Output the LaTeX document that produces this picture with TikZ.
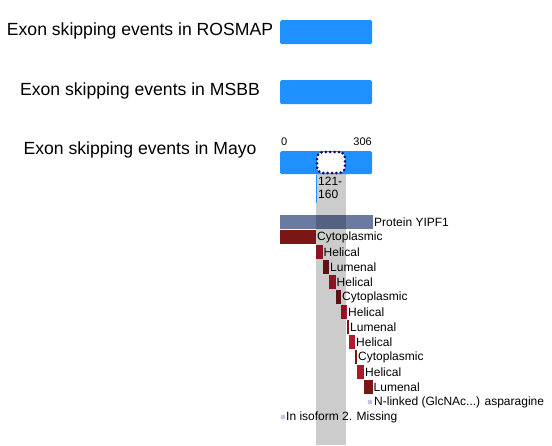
\documentclass[tikz,border=0pt]{standalone}
\usepackage{fontspec}
\setmainfont{Liberation Sans}
\usetikzlibrary{positioning}
\definecolor{exonblue}{HTML}{1E90FF}
\definecolor{protslate}{HTML}{6B7AA1}
\definecolor{helixred}{HTML}{B2182B}
\definecolor{loopred}{HTML}{7A1616}
\definecolor{dotnavy}{HTML}{10106A}
\definecolor{sitedot}{HTML}{C9C3DD}
\tikzset{
	exonbar/.style={fill=exonblue, rounded corners=1.5pt, minimum width=92pt, minimum height=24pt, anchor=north west, inner sep=0pt},
	title/.style={font=\fontsize{17.6}{20}\selectfont, anchor=center},
	small/.style={font=\fontsize{12}{13}\selectfont, inner sep=0pt, anchor=west},
	tick/.style={font=\fontsize{11}{12}\selectfont, inner sep=0pt},
}
\begin{document}
\begin{tikzpicture}[x=1pt,y=-1pt]
	\useasboundingbox (0,0) rectangle (552,445);
	\pgfmathsetmacro\XL{280}
	\pgfmathsetmacro\XR{372}
	\pgfmathsetmacro\WL{316}
	\pgfmathsetmacro\WR{346}
	\coordinate (bandtop) at (\WL,174);
	\coordinate (bandbot) at (\WR,445);
	\coordinate (winend) at (\WL+0.5,203);
	
	% exon bars and titles
	\node (rosmap) [exonbar] at (\XL,20) {};
	\node (msbb) [exonbar] at (\XL,80) {};
	\node (mayo) [exonbar, minimum height=23pt] at (\XL,151) {};
	\node (rosmaplab) [title] at (140,31) {Exon skipping events in ROSMAP};
	\node (msbblab) [title] at (140,91) {Exon skipping events in MSBB};
	\node (mayolab) [title] at (140,150) {Exon skipping events in Mayo};
	\node (tickzero) [tick, anchor=west] at (281,142) {0};
	\node (tickend) [tick, anchor=east] at (\XR,142) {306};
	
	% protein and its features
	\fill[protslate] (\XL,215) rectangle (373,229);
	\node (protlab) [small] at (374,222) {Protein YIPF1};
	\foreach \xa/\xb/\row/\col/\lab in {280/316/1/loopred/Cytoplasmic, 316/322.5/2/helixred/Helical, 322.5/329/3/loopred/Lumenal, 329/335.5/4/helixred/Helical, 335.5/341/5/loopred/Cytoplasmic, 341/347/6/helixred/Helical, 347/349/7/loopred/Lumenal, 349/355/8/helixred/Helical, 355/357/9/loopred/Cytoplasmic, 357/364/10/helixred/Helical, 364/372.5/11/loopred/Lumenal}
	{
		\fill[\col] (\xa,215+15*\row) rectangle (\xb,229+15*\row);
		\node (feat\row) [small] at (\xb+1,222+15*\row) {\lab};
	}
	\fill[sitedot] (370,402) circle (2.5);
	\node (glyco) [small] at (374,402) {N-linked (GlcNAc...) asparagine};
	\fill[sitedot] (283,417) circle (2.5);
	\node (isoform) [small] at (286,417) {In isoform 2. Missing};
	
	% skipped window
	\fill[black, opacity=0.2] (bandtop) rectangle (bandbot);
	\node (skipwin) [draw=dotnavy, fill=white, line width=3pt, dash pattern=on 0pt off 4.4pt, line cap=round, rounded corners=6pt, minimum width=28pt, minimum height=21pt, inner sep=0pt] at (331,162.5) {};
	\draw[exonblue, line width=1.5pt] (skipwin.south west -| winend) -- (winend);
	\node (winstart) [small] at (318,181) {121-};
	\node (winstop) [small] at (318,194) {160};
\end{tikzpicture}
\end{document}
